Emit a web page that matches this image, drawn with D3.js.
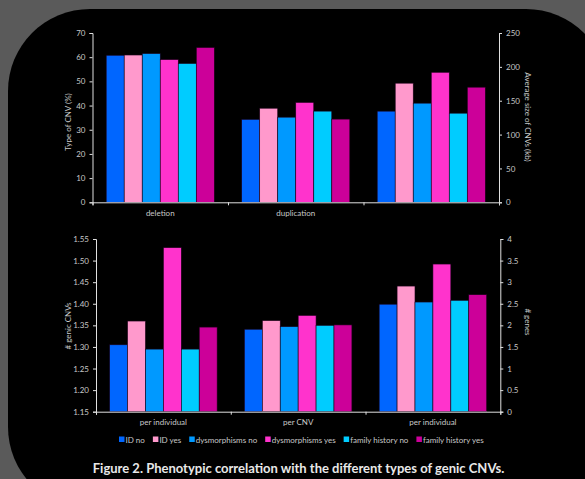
<!DOCTYPE html>
<html lang="en">
<head>
<meta charset="UTF-8">
<title>Phenotypic correlation with genic CNVs</title>
<script src="https://d3js.org/d3.v7.min.js"></script>
<style>
    body { margin: 0; background: #5a5a5a; }
    svg { display: block; }
    .tick text { fill: #c8c8c8; font-family: Lato, sans-serif; font-size: 8px; }
    .tick line, .domain { stroke: #e0e0e0; }
    .ttl { fill: #c8c8c8; font-family: Lato, sans-serif; font-size: 8px; }
</style>
</head>
<body>
<svg id="chart" width="585" height="479"></svg>
<script>
    var series = ["ID no", "ID yes", "dysmorphisms no", "dysmorphisms yes", "family history no", "family history yes"];
    var colors = ["#0066ff", "#ff99cc", "#0099ff", "#ff33cc", "#00ccff", "#cc0099"];

    // top panel: type of CNV (%) and average size (kb)
    var topCategories = ["deletion", "duplication", ""];
    var topAxisOf = ["left", "left", "right"];
    var topValues = [
        [60.8, 60.9, 61.5, 59.0, 57.4, 64.0],
        [34.3, 38.9, 35.2, 41.3, 37.7, 34.4],
        [134.6, 175.9, 146.4, 192.0, 131.6, 170.0]
    ];
    var topLeftTicks = [0, 10, 20, 30, 40, 50, 60, 70];
    var topRightTicks = [0, 50, 100, 150, 200, 250];

    // bottom panel: # genic CNVs and # genes
    var botCategories = ["per individual", "per CNV", "per individual"];
    var botAxisOf = ["left", "right", "right"];
    var botValues = [
        [1.305, 1.36, 1.295, 1.53, 1.295, 1.346],
        [1.91, 2.11, 1.97, 2.23, 2.0, 2.01],
        [2.49, 2.91, 2.54, 3.42, 2.58, 2.71]
    ];
    var botLeftTicks = [1.15, 1.20, 1.25, 1.30, 1.35, 1.40, 1.45, 1.50, 1.55];
    var botRightTicks = [0, 0.5, 1, 1.5, 2, 2.5, 3, 3.5, 4];

    var svg = d3.select("#chart");
    svg.append("rect").attr("width", 585).attr("height", 479).attr("fill", "#5a5a5a");
    svg.append("rect").attr("x", 8).attr("y", 9).attr("width", 600).attr("height", 500)
        .attr("rx", 82).attr("fill", "#000");

    function panel(opt) {
        var x = d3.scaleBand().domain(d3.range(opt.cats.length)).range([opt.left, opt.right]);
        var xs = d3.scaleBand().domain(series).range([0, x.bandwidth()]).paddingInner(0).paddingOuter(0.76);
        var xl = d3.scaleLinear().domain([0, opt.cats.length]).range([opt.left, opt.right]);
        var yL = d3.scaleLinear().domain(opt.leftDomain).range([opt.bottom, opt.top]);
        var yR = d3.scaleLinear().domain(opt.rightDomain).range([opt.bottom, opt.top]);

        var g = svg.append("g");
        opt.values.forEach(function(vals, i) {
            var y = opt.axisOf[i] == "left" ? yL : yR;
            g.selectAll(null).data(vals).enter().append("rect")
                .attr("x", function(d, j) { return x(i) + xs(series[j]); })
                .attr("y", function(d) { return y(d); })
                .attr("width", xs.bandwidth())
                .attr("height", function(d) { return opt.bottom - y(d); })
                .attr("fill", function(d, j) { return colors[j]; })
                .attr("stroke", "#1a0018").attr("stroke-width", 0.6);
        });

        g.append("g").attr("transform", "translate(" + opt.left + ",0)")
            .call(d3.axisLeft(yL).tickValues(opt.leftTicks).tickSize(3).tickPadding(4).tickFormat(opt.leftFmt));
        g.append("g").attr("transform", "translate(" + opt.right + ",0)")
            .call(d3.axisRight(yR).tickValues(opt.rightTicks).tickSize(3).tickPadding(4).tickFormat(d3.format("~g")));
        g.append("g").attr("transform", "translate(0," + opt.bottom + ")")
            .call(d3.axisBottom(xl).tickValues(d3.range(opt.cats.length + 1)).tickSize(3).tickFormat(""));
        var xa = g.append("g").attr("transform", "translate(0," + opt.bottom + ")")
            .call(d3.axisBottom(x).tickSize(0).tickPadding(8).tickFormat(function(i) { return opt.cats[i]; }));
        xa.select(".domain").remove();

        g.append("text").attr("class", "ttl").attr("text-anchor", "middle")
            .attr("transform", "translate(" + opt.lx + "," + opt.ly + ") rotate(-90)").text(opt.leftTitle);
        g.append("text").attr("class", "ttl").attr("text-anchor", "middle")
            .attr("transform", "translate(" + opt.rx + "," + opt.ry + ") rotate(90)").text(opt.rightTitle);
    }

    panel({
        cats: topCategories, values: topValues, axisOf: topAxisOf,
        left: 92.5, right: 499, top: 33, bottom: 202.3,
        leftDomain: [0, 70], rightDomain: [0, 250],
        leftTicks: topLeftTicks, rightTicks: topRightTicks, leftFmt: d3.format("d"),
        leftTitle: "Type of CNV (%)", lx: 71, ly: 122,
        rightTitle: "Average size of CNVs (kb)", rx: 525, ry: 117
    });

    panel({
        cats: botCategories, values: botValues, axisOf: botAxisOf,
        left: 96, right: 500.3, top: 239, bottom: 411.7,
        leftDomain: [1.15, 1.55], rightDomain: [0, 4],
        leftTicks: botLeftTicks, rightTicks: botRightTicks, leftFmt: d3.format(".2f"),
        leftTitle: "# genic CNVs", lx: 71, ly: 326,
        rightTitle: "# genes", rx: 525, ry: 322
    });

    // legend
    var lx = 119;
    series.forEach(function(s, i) {
        svg.append("rect").attr("x", lx).attr("y", 436.5).attr("width", 5.5).attr("height", 5.5).attr("fill", colors[i]);
        var t = svg.append("text").attr("class", "ttl").attr("x", lx + 6.5).attr("y", 442.5).text(s);
        lx += 6.5 + t.node().getComputedTextLength() + 8;
    });

    svg.append("text").attr("x", 298.5).attr("y", 473).attr("text-anchor", "middle")
        .attr("fill", "#e8e8e8").style("font-family", "Lato, sans-serif").style("font-weight", "bold")
        .style("font-size", "13px")
        .text("Figure 2. Phenotypic correlation with the different types of genic CNVs.");
</script>
</body>
</html>
